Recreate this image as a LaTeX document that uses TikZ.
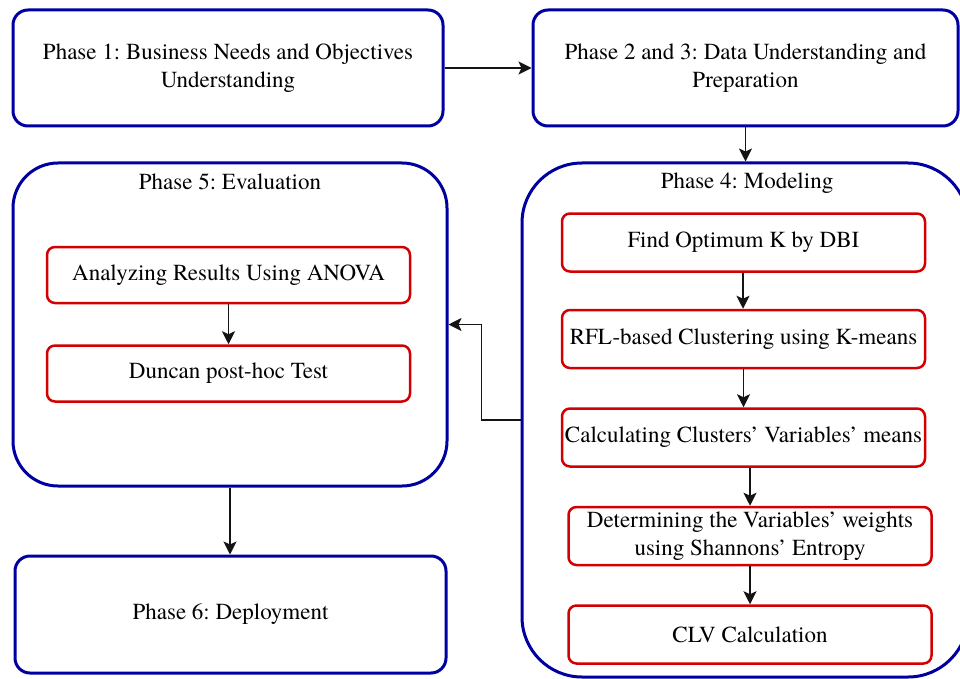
\documentclass[tikz,border=0pt]{standalone}
\usepackage{fontspec}
\setmainfont{texgyretermes}[Extension=.otf, UprightFont=*-regular, BoldFont=*-bold]
\usepackage{tikz}
\usetikzlibrary{arrows.meta, positioning, calc}
\definecolor{phaseColor}{RGB}{0, 0, 160}
\definecolor{stepColor}{RGB}{210, 0, 0}
\definecolor{lineColor}{RGB}{20, 20, 20}
\frenchspacing

\begin{document}
\begin{tikzpicture}[
        x=1pt, y=1pt,
        font=\fontsize{23}{28}\selectfont,
        phase/.style={rectangle, draw=phaseColor, line width=3pt, rounded corners=15pt, align=center, inner sep=0pt},
        group/.style={rectangle, draw=phaseColor, line width=3pt, inner sep=0pt},
        stepbox/.style={rectangle, draw=stepColor, line width=2.5pt, rounded corners=8pt, align=center, inner sep=0pt, minimum width=363pt, minimum height=58pt},
        title/.style={inner sep=0pt},
        line/.style={draw=lineColor, line width=1.8pt, -{Stealth[length=13pt, width=13pt, inset=3pt]}}
    ]
    \useasboundingbox (0,0) rectangle (960,-679);
    % Nodes
    \node (p1) [phase, minimum width=430pt, minimum height=116pt] at (228,-68) {Phase 1: Business Needs and Objectives\\Understanding};
    \node (p2) [phase, minimum width=425pt, minimum height=116pt] at (745.5,-68) {Phase 2 and 3: Data Understanding and\\Preparation};
    \node (p4) [group, rounded corners=60pt, minimum width=446pt, minimum height=514pt] at (745,-420) {};
    \node (p5) [group, rounded corners=45pt, minimum width=434pt, minimum height=323pt] at (230,-324.5) {};
    \node (p6) [phase, minimum width=431pt, minimum height=117pt] at (230.5,-614.5) {Phase 6: Deployment};
    \node (t4) [title] at (747,-183) {Phase 4: Modeling};
    \node (t5) [title] at (230,-182) {Phase 5: Evaluation};

    \node (k) [stepbox] at (743.5,-242.5) {Find Optimum K by DBI};
    \node (rfl) [stepbox, below=36pt of k] {RFL-based Clustering using K-means};
    \node (means) [stepbox, below=38pt of rfl] {Calculating Clusters' Variables' means};
    \node (weights) [stepbox, below=38pt of means, xshift=6.5pt] {Determining the Variables' weights\\using Shannons' Entropy};
    \node (clv) [stepbox, below=38pt of weights] {CLV Calculation};

    \node (anova) [stepbox, minimum height=56pt] at (228.5,-275) {Analyzing Results Using ANOVA};
    \node (duncan) [stepbox, minimum height=56pt, below=40pt of anova] {Duncan post-hoc Test};

    % Connectors
    \path [line] (p1) -- (p2);
    \path [line] (p2.south) -- (p2.south |- p4.north);
    \path [line] (k.south -| 743,0) -- (rfl.north -| 743,0);
    \path [line] (rfl) -- (means);
    \path [line] (weights.north |- means.south) -- (weights);
    \path [line] (weights) -- (clv);
    \path [line] (p4.west) -- ++(-39,0) |- (p5.east);
    \path [line] (anova) -- (duncan);
    \path [line] (p5.south) -- (p5.south |- p6.north);
    \end{tikzpicture}
\end{document}
